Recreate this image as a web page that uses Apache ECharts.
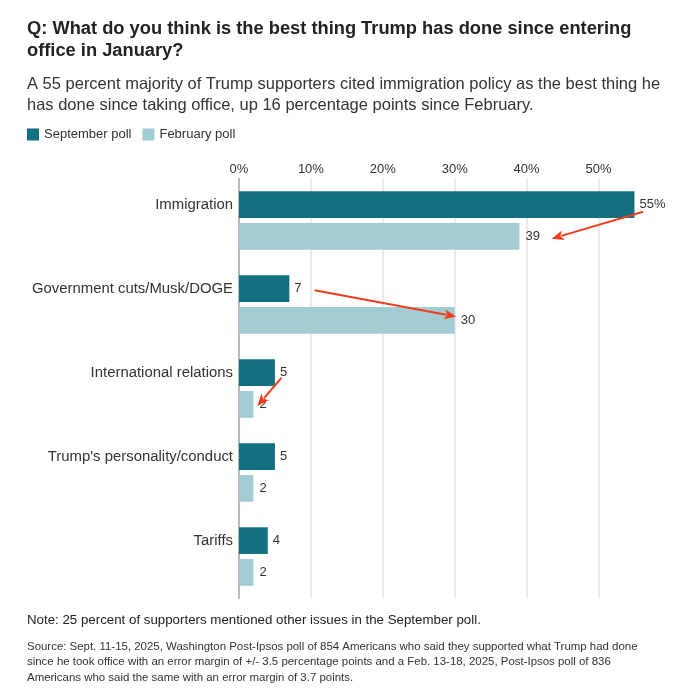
<!DOCTYPE html>
<html>
<head>
<meta charset="utf-8">
<script src="https://cdn.jsdelivr.net/npm/echarts@6/dist/echarts.min.js"></script>
<style>
html,body{margin:0;padding:0;background:#fff;}
#chart{width:694px;height:699px;}
</style>
</head>
<body>
<div id="chart"></div>
<script>
// ---- data ----
const categories = ['Immigration', 'Government cuts/Musk/DOGE', 'International relations', "Trump's personality/conduct", 'Tariffs'];
const septemberPoll = [55, 7, 5, 5, 4];
const februaryPoll = [39, 30, 2, 2, 2];
const xTicks = [0, 10, 20, 30, 40, 50];
const seriesNames = ['September poll', 'February poll'];
// arrows: [xFrom, catFrom, offsetFrom(band units), xTo, catTo, offsetTo]
const arrows = [
  [56.2, 0, -0.105, 43.5, 0, 0.217],
  [10.5, 1, -0.17, 30.2, 1, 0.143],
  [5.9, 2, -0.126, 2.55, 2, 0.207]
];

const titleText = 'Q: What do you think is the best thing Trump has done since entering\noffice in January?';
const subtitleText = 'A 55 percent majority of Trump supporters cited immigration policy as the best thing he\nhas done since taking office, up 16 percentage points since February.';
const noteText = 'Note: 25 percent of supporters mentioned other issues in the September poll.';
const sourceText = 'Source: Sept. 11-15, 2025, Washington Post-Ipsos poll of 854 Americans who said they supported what Trump had done\nsince he took office with an error margin of +/- 3.5 percentage points and a Feb. 13-18, 2025, Post-Ipsos poll of 836\nAmericans who said the same with an error margin of 3.7 points.';

const FONT = '"Liberation Sans", Arial, sans-serif';
const DARK = '#127080', LIGHT = '#a2cbd2', TXT = '#333333', RED = '#f23c1c';

const chart = echarts.init(document.getElementById('chart'), null, {renderer: 'canvas'});

const option = {
  backgroundColor: '#ffffff',
  animation: false,
  textStyle: {fontFamily: FONT},
  title: [
    {text: titleText, left: 27, top: 17.5, padding: 0, textStyle: {fontFamily: FONT, fontSize: 18.3, fontWeight: 'bold', color: '#222', lineHeight: 22.5}},
    {text: subtitleText, left: 27, top: 73.5, padding: 0, textStyle: {fontFamily: FONT, fontSize: 16.5, fontWeight: 'normal', color: '#333', lineHeight: 21.5}},
    {text: noteText, left: 27, top: 614, padding: 0, textStyle: {fontFamily: FONT, fontSize: 13.3, fontWeight: 'normal', color: '#222'}},
    {text: sourceText, left: 27, top: 639, padding: 0, textStyle: {fontFamily: FONT, fontSize: 11.45, fontWeight: 'normal', color: '#333', lineHeight: 15.5}}
  ],
  legend: {
    data: seriesNames,
    left: 27, top: 128, padding: 0,
    icon: 'rect', itemWidth: 12, itemHeight: 12, itemGap: 11,
    textStyle: {fontFamily: FONT, fontSize: 13, color: '#333'}
  },
  grid: {left: 239, right: 694 - 239 - 431.4, top: 178.5, bottom: 699 - 598.5, containLabel: false},
  xAxis: {
    type: 'value', position: 'top', min: 0, max: 60, interval: 10,
    axisLine: {show: false}, axisTick: {show: false},
    axisLabel: {fontFamily: FONT, fontSize: 13, color: '#333', margin: 2.5, showMaxLabel: false,
      formatter: v => xTicks.includes(v) ? v + '%' : ''},
    splitLine: {show: true, showMaxLine: false, lineStyle: {color: '#e4e4e4', width: 1.5}}
  },
  yAxis: {
    type: 'category', data: categories, inverse: true,
    axisLine: {show: true, lineStyle: {color: '#a8a8a8', width: 1.5}},
    axisTick: {show: false},
    axisLabel: {fontFamily: FONT, fontSize: 14.9, color: '#333', margin: 6, verticalAlign: 'bottom', lineHeight: 32}
  },
  series: [
    {
      name: seriesNames[0], type: 'bar', data: septemberPoll, barWidth: 26.7, barGap: '19%',
      itemStyle: {color: DARK},
      label: {show: true, position: 'right', distance: 5, fontFamily: FONT, fontSize: 13, color: '#333',
        formatter: p => p.dataIndex === 0 ? p.value + '%' : String(p.value)}
    },
    {
      name: seriesNames[1], type: 'bar', data: februaryPoll, barWidth: 26.7, barGap: '19%',
      itemStyle: {color: LIGHT},
      label: {show: true, position: 'right', distance: 6, fontFamily: FONT, fontSize: 13, color: '#333'}
    }
  ]
};
chart.setOption(option);

function drawArrows() {
  const c0 = chart.convertToPixel({gridIndex: 0}, [0, 0]);
  const c1 = chart.convertToPixel({gridIndex: 0}, [0, 1]);
  const band = c1[1] - c0[1];
  const els = [];
  arrows.forEach(a => {
    const p1 = chart.convertToPixel({gridIndex: 0}, [a[0], a[1]]);
    const p2 = chart.convertToPixel({gridIndex: 0}, [a[3], a[4]]);
    const x1 = p1[0], y1 = p1[1] + a[2] * band;
    const x2 = p2[0], y2 = p2[1] + a[5] * band;
    const dx = x2 - x1, dy = y2 - y1, len = Math.sqrt(dx * dx + dy * dy);
    const ux = dx / len, uy = dy / len;
    const hl = 12, hw = 5;
    const bx = x2 - ux * hl, by = y2 - uy * hl;
    els.push({type: 'line', shape: {x1: x1, y1: y1, x2: bx + ux * 2, y2: by + uy * 2}, style: {stroke: RED, lineWidth: 2}, z: 100});
    els.push({type: 'polygon', shape: {points: [[x2, y2], [bx - uy * hw, by + ux * hw], [bx + ux * 3, by + uy * 3], [bx + uy * hw, by - ux * hw]]}, style: {fill: RED}, z: 100});
  });
  chart.setOption({graphic: els});
}
drawArrows();
</script>
</body>
</html>
